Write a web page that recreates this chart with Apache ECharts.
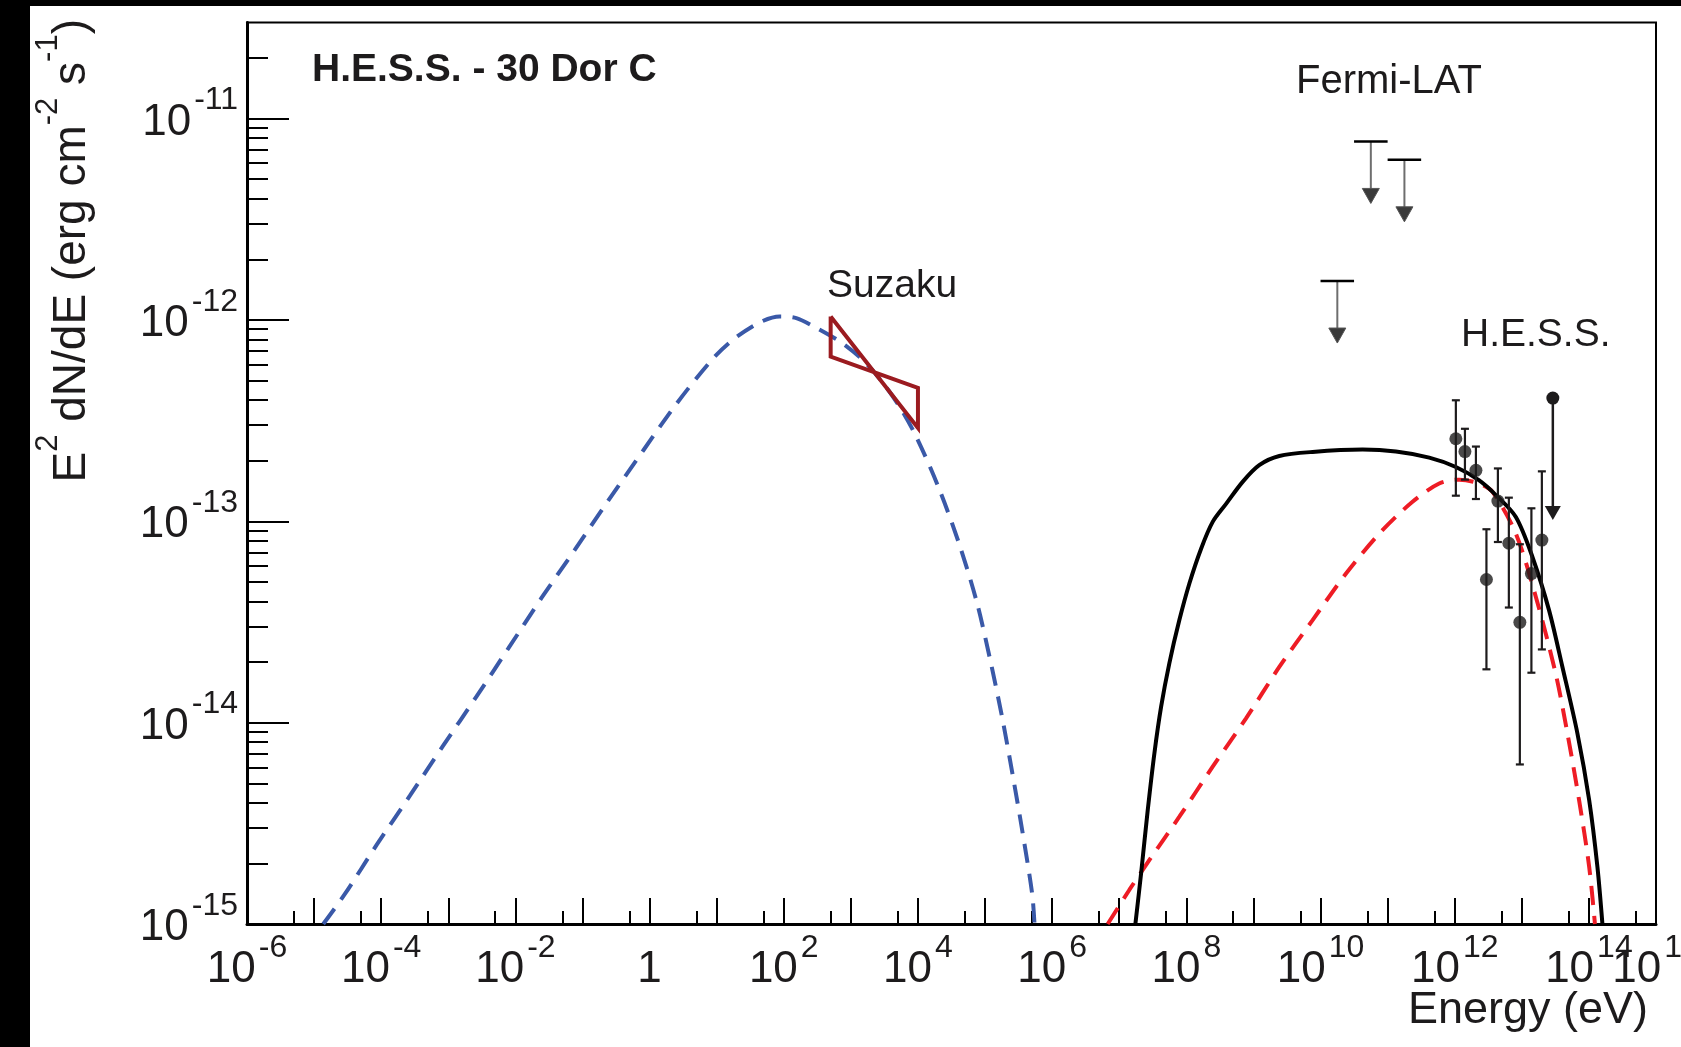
<!DOCTYPE html>
<html>
<head>
<meta charset="utf-8">
<title>H.E.S.S. - 30 Dor C</title>
<script src="https://cdn.jsdelivr.net/npm/echarts@6/dist/echarts.min.js"></script>
<style>
  html, body { margin: 0; padding: 0; background: #ffffff; }
  #chart { width: 1681px; height: 1047px; }
</style>
</head>
<body>
<div id="chart"></div>
<script>
// ---- Spectral energy distribution of 30 Dor C --------------------------------
// Energies in eV, fluxes E^2 dN/dE in erg cm^-2 s^-1.

// Synchrotron model (blue dashed)
const syncE = [1.37e-5, 2.88e-5, 8.55e-5, 2.68e-4, 8.39e-4, 2.64e-3, 7.80e-3, 2.45e-2, 7.67e-2,
  0.240, 0.800, 2.51, 8.81, 18.5, 43.8, 86.9, 154, 305, 721, 1429, 2838, 5321, 9441,
  2.05e4, 4.17e4, 7.53e4, 1.19e5, 1.80e5, 2.59e5, 3.65e5, 5.04e5, 5.46e5];
const syncF = [1.0e-15, 1.41e-15, 2.47e-15, 4.34e-15, 7.69e-15, 1.35e-14, 2.33e-14, 4.16e-14, 7.21e-14,
  1.26e-13, 2.24e-13, 3.83e-13, 6.43e-13, 8.09e-13, 9.72e-13, 1.04e-12, 1.02e-12, 9.14e-13, 7.73e-13,
  6.43e-13, 4.99e-13, 3.71e-13, 2.63e-13, 1.46e-13, 7.62e-14, 3.97e-14, 2.06e-14, 1.06e-14, 5.46e-15,
  2.81e-15, 1.41e-15, 1.0e-15];

// Inverse-Compton model (red dashed)
const icE = [6.73e6, 1.42e7, 2.82e7, 7.87e7, 2.47e8, 7.76e8, 2.43e9, 7.62e9, 2.40e10, 7.52e10,
  2.35e11, 5.87e11, 1.17e12, 2.31e12, 3.66e12, 8.15e12, 1.62e13, 3.21e13, 4.79e13, 7.14e13, 1.01e14, 1.23e14];
const icF = [1.0e-15, 1.48e-15, 2.08e-15, 3.41e-15, 6.04e-15, 1.05e-14, 1.89e-14, 3.23e-14, 5.50e-14, 8.69e-14,
  1.25e-13, 1.54e-13, 1.61e-13, 1.54e-13, 1.40e-13, 8.69e-14, 4.21e-14, 1.74e-14, 8.83e-15, 4.12e-15, 1.92e-15, 1.0e-15];

// Pion-decay model (black solid)
const pionE = [1.74e7, 2.12e7, 2.66e7, 3.34e7, 4.21e7, 5.58e7, 7.87e7, 1.11e8, 1.66e8, 2.47e8, 3.91e8,
  6.90e8, 1.22e9, 2.43e9, 7.62e9, 4.24e10, 1.33e11, 4.17e11, 1.04e12, 2.29e12, 4.10e12, 8.15e12,
  1.44e13, 2.55e13, 4.03e13, 6.75e13, 1.01e14, 1.34e14, 1.59e14];
const pionF = [1.0e-15, 1.79e-15, 3.68e-15, 7.03e-15, 1.20e-14, 1.97e-14, 3.23e-14, 4.91e-14, 7.31e-14,
  9.93e-14, 1.22e-13, 1.57e-13, 1.90e-13, 2.11e-13, 2.21e-13, 2.27e-13, 2.22e-13, 2.07e-13, 1.86e-13,
  1.60e-13, 1.35e-13, 1.05e-13, 6.65e-14, 3.61e-14, 1.89e-14, 8.83e-15, 4.12e-15, 1.92e-15, 1.0e-15];

// Suzaku X-ray butterfly: band edges and flux range at each edge
const suzakuE = [500, 1e4];
const suzakuLow = [6.58e-13, 2.91e-13];
const suzakuHigh = [1.04e-12, 4.60e-13];

// Fermi-LAT upper limits (half-decade bins)
const fermiE = [1.78e10, 5.62e10, 1.78e11];
const fermiElo = [1.0e10, 3.16e10, 1.0e11];
const fermiEhi = [3.16e10, 1.0e11, 3.16e11];
const fermiUL = [1.56e-12, 7.70e-12, 6.24e-12];

// H.E.S.S. spectral points with 1-sigma errors
const hessE = [1.04e12, 1.42e12, 2.07e12, 2.97e12, 4.40e12, 6.41e12, 9.35e12, 1.39e13, 1.99e13];
const hessF = [2.57e-13, 2.22e-13, 1.79e-13, 5.14e-14, 1.26e-13, 7.78e-14, 3.15e-14, 5.50e-14, 8.07e-14];
const hessFlo = [1.34e-13, 1.61e-13, 1.29e-13, 1.84e-14, 7.89e-14, 3.73e-14, 6.2e-15, 1.77e-14, 2.31e-14];
const hessFhi = [3.99e-13, 2.88e-13, 2.35e-13, 9.13e-14, 1.83e-13, 1.31e-13, 7.69e-14, 1.16e-13, 1.77e-13];
// H.E.S.S. upper limit
const hessUlE = [2.90e13];
const hessUlF = [4.09e-13];

// Axis ranges and tick exponents
const xMin = 1e-6, xMax = 1e15;
const yMin = 1e-15, yMax = 3e-11;
const xMajorExps = [-6,-5,-4,-3,-2,-1,0,1,2,3,4,5,6,7,8,9,10,11,12,13,14];
const xLabelExps = [-6,-4,-2,0,2,4,6,8,10,12,14];
const xEndLabelExps = [15];
const xMinorExps = [-6,-5,-4,-3,-2,-1,0,1,2,3,4,5,6,7,8,9,10,11,12,13,14];
const yMajorExps = [-15,-14,-13,-12,-11];
const yMinorMantissas = [2,3,4,5,6,7,8,9];

// ---- Build plotting structures ----------------------------------------------
// Fluxes are plotted in units of 1e-15 erg cm^-2 s^-1 on the log axis,
// tick labels convert back to the physical exponent.
const FLUX_UNIT = 1e-15;
const FLUX_EXP = -15;
const fu = v => +(v / FLUX_UNIT).toPrecision(10);
const pairs = (xs, ys) => xs.map((x, i) => [x, fu(ys[i])]);
// nudge a value sitting on the upper axis end into the axis extent
const belowEnd = v => v * (1 - 1e-9);

const xMajorTicks = xMajorExps.map(e => Math.pow(10, e));
const xLabelTicks = xLabelExps.map(e => Math.pow(10, e));
const xEndLabelTicks = xEndLabelExps.map(e => belowEnd(Math.pow(10, e)));
const xMinorTicks = xMinorExps.map(e => 5 * Math.pow(10, e));
const yMajorValues = yMajorExps.map(e => fu(Math.pow(10, e)));
const yMinorValues = [];
yMajorExps.forEach(e => yMinorMantissas.forEach(m => {
  const v = fu(m * Math.pow(10, e));
  if (v < fu(yMax)) yMinorValues.push(v);
}));

const FONT = '"Liberation Sans", Arial, Helvetica, sans-serif';
const INK = '#1d1b1c';

function powLabel(value, shift) {
  const e = Math.round(Math.log10(value)) + shift;
  if (e === 0) return '{b|1}';
  return '{b|10}{s|' + e + '}';
}
const tickRich = {
  b: { fontSize: 44, fontFamily: FONT, color: INK, height: 44, padding: [16, 0, 0, 0] },
  s: { fontSize: 32, fontFamily: FONT, color: INK, height: 32, verticalAlign: 'top', padding: [0, 0, 0, 3] }
};

// Suzaku butterfly outline: low edge top -> low edge bottom -> high edge top -> high edge bottom -> close
const suzakuOutline = [
  [suzakuE[0], fu(suzakuHigh[0])],
  [suzakuE[0], fu(suzakuLow[0])],
  [suzakuE[1], fu(suzakuHigh[1])],
  [suzakuE[1], fu(suzakuLow[1])],
  [suzakuE[0], fu(suzakuHigh[0])]
];

const chart = echarts.init(document.getElementById('chart'), null, { renderer: 'canvas' });

const xLabelCommon = {
  show: true, margin: 8, hideOverlap: false,
  formatter: v => powLabel(v, 0), rich: tickRich
};

const option = {
  animation: false,
  backgroundColor: '#ffffff',
  grid: {
    left: 247, top: 22.5, right: 1681 - 1656, bottom: 1047 - 924,
    containLabel: false, outerBoundsMode: 'none',
    show: true, borderColor: '#000', borderWidth: 2, backgroundColor: 'transparent'
  },
  xAxis: [
    {
      type: 'log', logBase: 10, min: xMin, max: xMax, position: 'bottom',
      axisLine: { show: true, onZero: false, lineStyle: { color: '#000', width: 3 } },
      axisTick: { show: true, inside: true, length: 26, customValues: xMajorTicks,
                  lineStyle: { color: '#000', width: 2 } },
      axisLabel: Object.assign({ customValues: xLabelTicks, showMinLabel: true, showMaxLabel: true }, xLabelCommon),
      splitLine: { show: false }
    },
    {
      type: 'log', logBase: 10, min: xMin, max: xMax, position: 'bottom',
      axisLine: { show: false },
      axisTick: { show: true, inside: true, length: 13, customValues: xMinorTicks,
                  lineStyle: { color: '#000', width: 2 } },
      axisLabel: Object.assign({ customValues: xEndLabelTicks, showMinLabel: true, showMaxLabel: true }, xLabelCommon),
      splitLine: { show: false }
    }
  ],
  yAxis: [
    {
      type: 'log', logBase: 10, min: fu(yMin), max: fu(yMax), position: 'left',
      axisLine: { show: true, onZero: false, lineStyle: { color: '#000', width: 3 } },
      axisTick: { show: true, inside: true, length: 42, customValues: yMajorValues,
                  lineStyle: { color: '#000', width: 2 } },
      axisLabel: { show: true, customValues: yMajorValues, margin: 9, padding: [0, 0, 8, 0],
                   showMinLabel: true, showMaxLabel: true, hideOverlap: false,
                   formatter: v => powLabel(v, FLUX_EXP), rich: tickRich },
      splitLine: { show: false }
    },
    {
      type: 'log', logBase: 10, min: fu(yMin), max: fu(yMax), position: 'left',
      axisLine: { show: false },
      axisTick: { show: true, inside: true, length: 21, customValues: yMinorValues,
                  lineStyle: { color: '#000', width: 2 } },
      axisLabel: { show: false },
      splitLine: { show: false }
    }
  ],
  series: [
    {
      name: 'Synchrotron', type: 'line', xAxisIndex: 0, yAxisIndex: 0,
      data: pairs(syncE, syncF), showSymbol: false, smooth: 0.3, clip: true,
      lineStyle: { color: '#3a59a8', width: 4, type: [19, 11] }, z: 2
    },
    {
      name: 'Inverse Compton', type: 'line', xAxisIndex: 0, yAxisIndex: 0,
      data: pairs(icE, icF), showSymbol: false, smooth: 0.3, clip: true,
      lineStyle: { color: '#ee1c25', width: 4, type: [19, 11] }, z: 2
    },
    {
      name: 'Pion decay', type: 'line', xAxisIndex: 0, yAxisIndex: 0,
      data: pairs(pionE, pionF), showSymbol: false, smooth: 0.3, clip: true,
      lineStyle: { color: '#000000', width: 4 }, z: 3
    },
    {
      name: 'Suzaku', type: 'line', xAxisIndex: 0, yAxisIndex: 0,
      data: suzakuOutline, showSymbol: false, smooth: false,
      lineStyle: { color: '#9b1b20', width: 4, join: 'miter' }, z: 4
    },
    {
      name: 'H.E.S.S. errors', type: 'custom', xAxisIndex: 0, yAxisIndex: 0, z: 5,
      data: hessE.map((e, i) => [e, fu(hessF[i]), fu(hessFlo[i]), fu(hessFhi[i])]),
      renderItem: (params, api) => {
        const top = api.coord([api.value(0), api.value(3)]);
        const bot = api.coord([api.value(0), api.value(2)]);
        const st = { stroke: INK, lineWidth: 2.2 };
        const cap = 4;
        return {
          type: 'group',
          children: [
            { type: 'line', shape: { x1: top[0], y1: top[1], x2: bot[0], y2: bot[1] }, style: st },
            { type: 'line', shape: { x1: top[0] - cap, y1: top[1], x2: top[0] + cap, y2: top[1] }, style: st },
            { type: 'line', shape: { x1: bot[0] - cap, y1: bot[1], x2: bot[0] + cap, y2: bot[1] }, style: st }
          ]
        };
      }
    },
    {
      name: 'H.E.S.S.', type: 'scatter', xAxisIndex: 0, yAxisIndex: 0, z: 6,
      data: pairs(hessE, hessF), symbol: 'circle', symbolSize: 13,
      itemStyle: { color: INK }
    },
    {
      name: 'H.E.S.S. upper limit', type: 'custom', xAxisIndex: 0, yAxisIndex: 0, z: 6,
      data: pairs(hessUlE, hessUlF),
      renderItem: (params, api) => {
        const p = api.coord([api.value(0), api.value(1)]);
        const len = 122, hw = 8, hh = 14;
        return {
          type: 'group',
          children: [
            { type: 'line', shape: { x1: p[0], y1: p[1], x2: p[0], y2: p[1] + len - hh + 1 },
              style: { stroke: INK, lineWidth: 2.5 } },
            { type: 'polygon', shape: { points: [[p[0] - hw, p[1] + len - hh], [p[0] + hw, p[1] + len - hh], [p[0], p[1] + len]] },
              style: { fill: INK } },
            { type: 'circle', shape: { cx: p[0], cy: p[1], r: 6.5 }, style: { fill: INK } }
          ]
        };
      }
    },
    {
      name: 'Fermi-LAT', type: 'custom', xAxisIndex: 0, yAxisIndex: 0, z: 6,
      data: fermiE.map((e, i) => [e, fu(fermiUL[i]), fermiElo[i], fermiEhi[i]]),
      renderItem: (params, api) => {
        const p = api.coord([api.value(0), api.value(1)]);
        const l = api.coord([api.value(2), api.value(1)]);
        const r = api.coord([api.value(3), api.value(1)]);
        const len = 62, hw = 8.5, hh = 15;
        return {
          type: 'group',
          children: [
            { type: 'line', shape: { x1: p[0], y1: p[1], x2: p[0], y2: p[1] + len - hh + 1 },
              style: { stroke: '#6e6e6e', lineWidth: 2 } },
            { type: 'polygon', shape: { points: [[p[0] - hw, p[1] + len - hh], [p[0] + hw, p[1] + len - hh], [p[0], p[1] + len]] },
              style: { fill: '#3a3a3a', stroke: '#555', lineWidth: 1 } },
            { type: 'line', shape: { x1: l[0], y1: l[1], x2: r[0], y2: r[1] },
              style: { stroke: '#000', lineWidth: 2.5 } }
          ]
        };
      }
    }
  ],
  graphic: [
    // page frame bands
    { type: 'rect', shape: { x: 0, y: 0, width: 30, height: 1047 }, style: { fill: '#000' }, z: 50 },
    { type: 'rect', shape: { x: 0, y: 0, width: 1681, height: 6 }, style: { fill: '#000' }, z: 50 },
    // title and instrument labels
    { type: 'text', x: 312, y: 70, z: 20,
      style: { text: 'H.E.S.S. - 30 Dor C', font: 'bold 39px ' + FONT, fill: INK, align: 'left', verticalAlign: 'middle' } },
    { type: 'text', x: 1296, y: 82, z: 20,
      style: { text: 'Fermi-LAT', font: '40px ' + FONT, fill: INK, align: 'left', verticalAlign: 'middle' } },
    { type: 'text', x: 1461, y: 335, z: 20,
      style: { text: 'H.E.S.S.', font: '39px ' + FONT, fill: INK, align: 'left', verticalAlign: 'middle' } },
    { type: 'text', x: 827, y: 286, z: 20,
      style: { text: 'Suzaku', font: '39px ' + FONT, fill: INK, align: 'left', verticalAlign: 'middle' } },
    // axis titles
    { type: 'text', x: 1648, y: 1011, z: 20,
      style: { text: 'Energy (eV)', font: '45px ' + FONT, fill: INK, align: 'right', verticalAlign: 'middle' } },
    { type: 'text', x: 64, y: 19, rotation: Math.PI / 2, z: 20,
      style: {
        text: '{b|E}{s|2}{b| dN/dE (erg cm}{s|-2}{b| s}{s|-1}{b|)}',
        align: 'right', verticalAlign: 'middle',
        rich: {
          b: { fontSize: 46, fontFamily: FONT, fill: INK, color: INK, height: 46, padding: [16, 0, 0, 0] },
          s: { fontSize: 31, fontFamily: FONT, fill: INK, color: INK, height: 31, verticalAlign: 'top' }
        }
      } }
  ]
};

chart.setOption(option);
</script>
</body>
</html>
